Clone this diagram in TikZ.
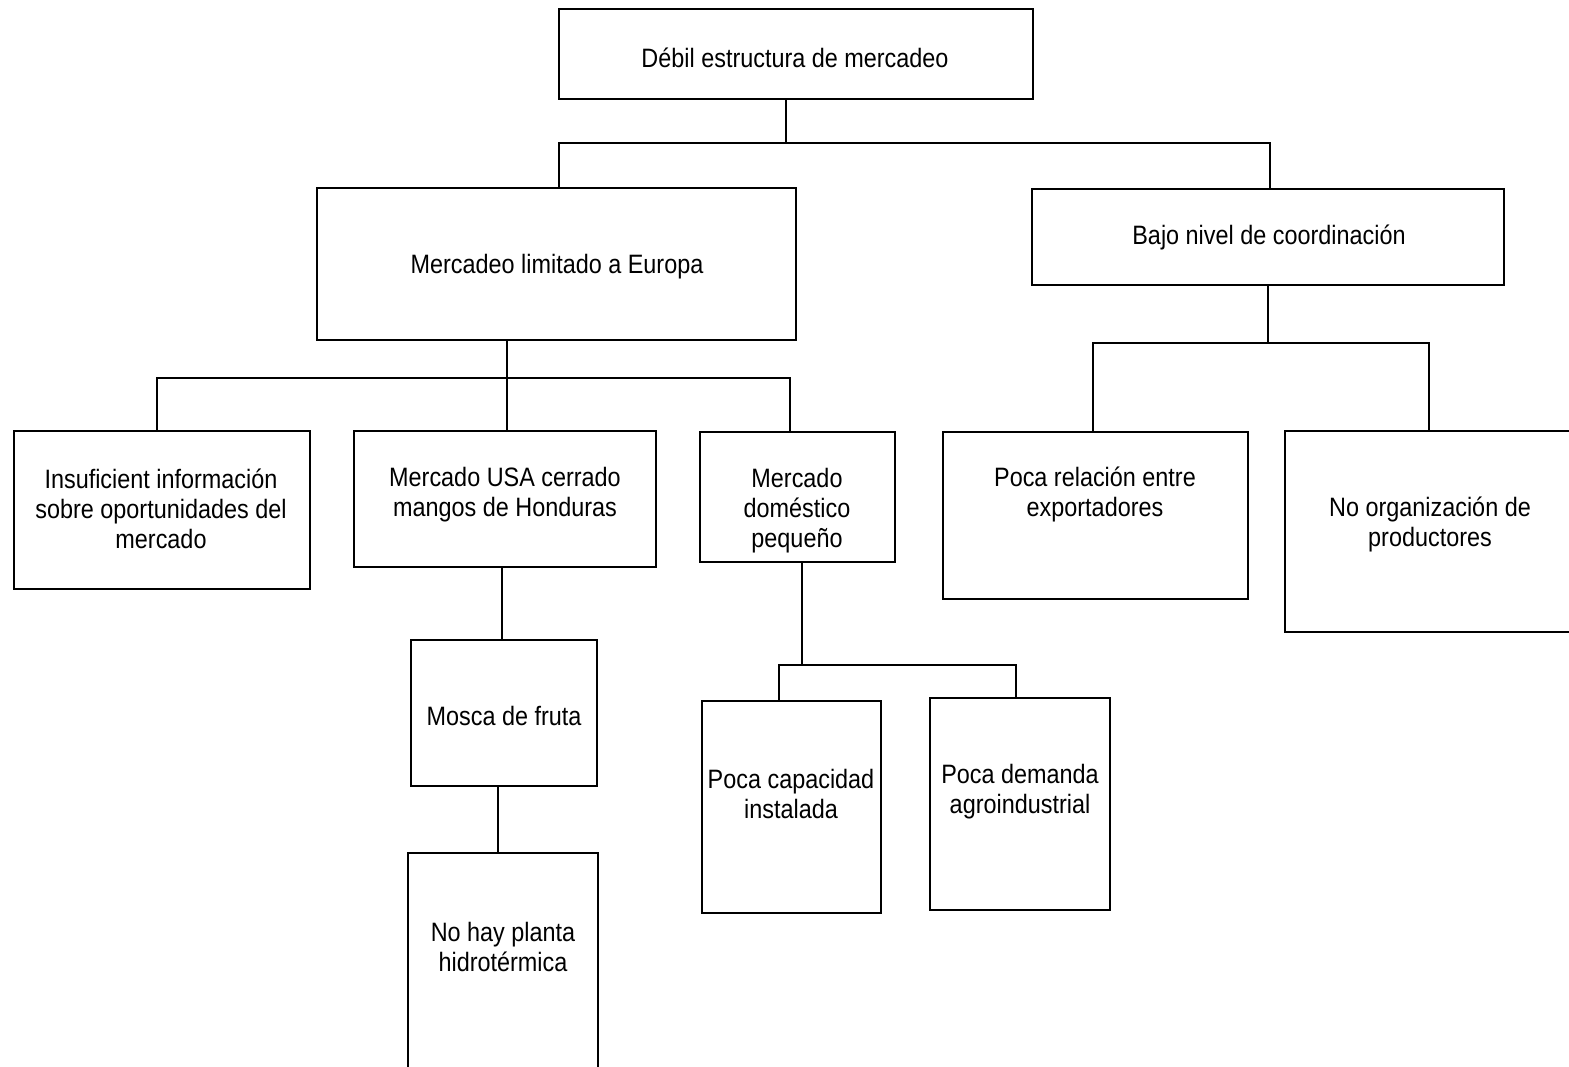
\documentclass[tikz,border=0pt]{standalone}
\usepackage{fontspec}
\setmainfont{Liberation Sans}[FakeStretch=0.88]
\begin{document}
\begin{tikzpicture}[x=0.5pt,y=-0.5pt,
  box/.style={draw, line width=0.7pt, inner sep=0pt, outer sep=0pt},
  txt/.style={font=\fontsize{13.3}{15}\selectfont, align=center, inner sep=0pt, yshift=-1.2pt},
  conn/.style={line width=0.7pt}]
\useasboundingbox (0,0) rectangle (1569,1066);
\clip (0,0) rectangle (1569,1066);
% boxes
\node[box, minimum width=237pt, minimum height=45pt] (b1) at (796,54) {};
\node[box, minimum width=239.5pt, minimum height=76pt] (b2) at (556.5,264) {};
\node[box, minimum width=236pt, minimum height=48pt] (b3) at (1268,237) {};
\node[box, minimum width=148pt, minimum height=79pt] (b4) at (162,510) {};
\node[box, minimum width=151pt, minimum height=68pt] (b5) at (505,499) {};
\node[box, minimum width=97.5pt, minimum height=65pt] (b6) at (797.5,497) {};
\node[box, minimum width=152.5pt, minimum height=83.5pt] (b7) at (1095.5,515.5) {};
\node[box, minimum width=147.5pt, minimum height=100.5pt] (b8) at (1432.5,531.5) {};
\node[box, minimum width=93pt, minimum height=73pt] (b9) at (504,713) {};
\node[box, minimum width=95pt, minimum height=113.5pt] (b10) at (503,966.5) {};
\node[box, minimum width=89.5pt, minimum height=106pt] (b11) at (791.5,807) {};
\node[box, minimum width=90pt, minimum height=106pt] (b12) at (1020,804) {};
% texts
\node[txt] (t1) at (795,55) {Débil estructura de mercadeo};
\node[txt] (t2) at (557,264) {Mercadeo limitado a Europa};
\node[txt] (t3) at (1269,235) {Bajo nivel de coordinación};
\node[txt] (t4) at (161,506) {Insuficient información\\sobre oportunidades del\\mercado};
\node[txt] (t5) at (505,492) {Mercado USA cerrado\\mangos de Honduras};
\node[txt] (t6) at (797,508) {Mercado\\doméstico\\pequeño};
\node[txt] (t7) at (1095,492) {Poca relación entre\\exportadores};
\node[txt] (t8) at (1430,522) {No organización de\\productores};
\node[txt] (t9) at (504,714) {Mosca de fruta};
\node[txt] (t10) at (503,945) {No hay planta\\hidrotérmica};
\node[txt] (t11) at (791,792) {Poca capacidad\\instalada};
\node[txt] (t12) at (1020,789) {Poca demanda\\agroindustrial};
% connectors level 1
\coordinate (j1) at (786,143);
\coordinate (j1L) at (559,143);
\coordinate (j1R) at (1270,143);
\draw[conn] (j1 |- b1.south) -- (j1);
\draw[conn] (j1L |- b2.north) -- (j1L) -- (j1R) -- (j1R |- b3.north);
% connectors under b2
\coordinate (j2) at (507,378);
\coordinate (j2L) at (157,378);
\coordinate (j2R) at (790,378);
\draw[conn] (j2 |- b2.south) -- (j2 |- b5.north);
\draw[conn] (j2L |- b4.north) -- (j2L) -- (j2R) -- (j2R |- b6.north);
% connectors under b3
\coordinate (j3) at (1268,343);
\coordinate (j3L) at (1093,343);
\coordinate (j3R) at (1429,343);
\draw[conn] (j3 |- b3.south) -- (j3);
\draw[conn] (j3L |- b7.north) -- (j3L) -- (j3R) -- (j3R |- b8.north);
% b5 -> b9 -> b10
\coordinate (j5) at (502,600);
\draw[conn] (j5 |- b5.south) -- (j5 |- b9.north);
\coordinate (j9) at (498,820);
\draw[conn] (j9 |- b9.south) -- (j9 |- b10.north);
% under b6
\coordinate (j6) at (802,665);
\coordinate (j6L) at (779,665);
\coordinate (j6R) at (1016,665);
\draw[conn] (j6 |- b6.south) -- (j6);
\draw[conn] (j6L |- b11.north) -- (j6L) -- (j6R) -- (j6R |- b12.north);
\end{tikzpicture}
\end{document}
